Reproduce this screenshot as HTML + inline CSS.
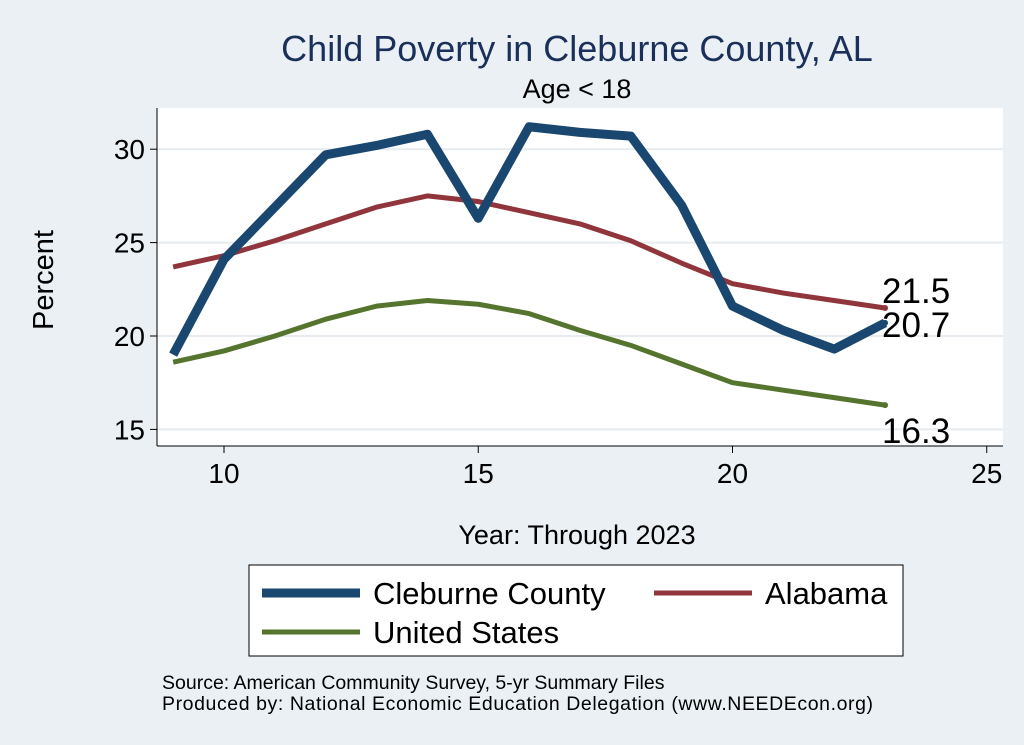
<!DOCTYPE html>
<html><head><meta charset="utf-8"><style>
body{margin:0;background:#eaf0f4;}
svg{display:block;font-family:"Liberation Sans",Arial,sans-serif;}
</style></head><body>
<svg id="chart" width="1024" height="745" viewBox="0 0 1024 745">
<rect x="0" y="0" width="1024" height="745" fill="#eaf0f4"/>
<text x="577" y="61" font-size="36" fill="#1a2f5a" text-anchor="middle">Child Poverty in Cleburne County, AL</text>
<text x="577" y="98" font-size="27" fill="#000" text-anchor="middle">Age &lt; 18</text>
<rect x="157" y="108" width="846" height="338" fill="#fff"/>
<g id="grid"></g>
<g id="axes"></g>
<g id="series"></g>
<text x="53" y="280" font-size="29" text-anchor="middle" transform="rotate(-90 53 280)">Percent</text>
<text x="577" y="544" font-size="27" text-anchor="middle">Year: Through 2023</text>
<g>
<rect x="249" y="565" width="654" height="91" fill="#fff" stroke="#000" stroke-width="1"/>
<line x1="262" y1="593" x2="360" y2="593" stroke="#1a476f" stroke-width="9"/>
<text x="373" y="604" font-size="31">Cleburne County</text>
<line x1="654" y1="593" x2="752" y2="593" stroke="#90353b" stroke-width="5"/>
<text x="765" y="604" font-size="31">Alabama</text>
<line x1="262" y1="632" x2="360" y2="632" stroke="#55752f" stroke-width="5"/>
<text x="373" y="643" font-size="31">United States</text>
</g>
<text x="162" y="689" font-size="19.5">Source: American Community Survey, 5-yr Summary Files</text>
<text x="162" y="710" font-size="19.5" textLength="711">Produced by: National Economic Education Delegation (www.NEEDEcon.org)</text>
</svg>
<script>
const years=[9,10,11,12,13,14,15,16,17,18,19,20,21,22,23];
const cleburne=[19.0,24.1,26.9,29.7,30.2,30.8,26.3,31.2,30.9,30.7,27.0,21.6,20.3,19.3,20.7];
const alabama=[23.7,24.3,25.1,26.0,26.9,27.5,27.2,26.6,26.0,25.1,23.9,22.8,22.3,21.9,21.5];
const us=[18.6,19.2,20.0,20.9,21.6,21.9,21.7,21.2,20.3,19.5,18.5,17.5,17.1,16.7,16.3];
const xTicks=[10,15,20,25];
const yTicks=[15,20,25,30];
const NS='http://www.w3.org/2000/svg';
function xs(v){return 224+(v-10)*50.85;}
function ys(v){return 336-(v-20)*18.68;}
function mk(tag,attrs,parent){const e=document.createElementNS(NS,tag);for(const k in attrs)e.setAttribute(k,attrs[k]);document.getElementById(parent).appendChild(e);return e;}
yTicks.forEach(t=>{
 const g=mk('line',{x1:157,x2:1003,y1:ys(t),y2:ys(t),stroke:'#e6ecef','stroke-width':2},'grid');
 
 
 const tk=mk('line',{x1:150,x2:157,y1:ys(t),y2:ys(t),stroke:'#000','stroke-width':1},'axes');
 
 
 const l=mk('text',{x:145,y:ys(t)+10,'font-size':28,'text-anchor':'end'},'axes');l.textContent=t;
 
 
});
mk('line',{x1:157,x2:157,y1:108,y2:446,stroke:'#000'},'axes');
mk('line',{x1:157,x2:1003,y1:446,y2:446,stroke:'#000'},'axes');
xTicks.forEach(t=>{
 const tk=mk('line',{x1:xs(t),x2:xs(t),y1:446,y2:453,stroke:'#000'},'axes');
 
 
 const l=mk('text',{x:xs(t),y:483,'font-size':28,'text-anchor':'middle'},'axes');l.textContent=t;
 
 
});
function line(vals,color,w,name){
 const d=vals.map((v,i)=>(i?'L':'M')+xs(years[i])+' '+ys(v)).join(' ');
 const p=mk('path',{d:d,fill:'none',stroke:color,'stroke-width':w,'stroke-linejoin':'round'},'series');
 
 
 const last=vals[vals.length-1];
 const c=mk('circle',{cx:xs(years[years.length-1]),cy:ys(last),r:3,fill:color},'series');
 
 
}
line(us,'#55752f',5,'us');
line(alabama,'#90353b',5,'alabama');
line(cleburne,'#1a476f',9,'cleburne');
const ex=xs(23);
[[alabama,-5,'alabama'],[cleburne,14,'cleburne'],[us,38,'us']].forEach(([v,dy,n])=>{
 const t=mk('text',{x:ex-3,y:ys(v[v.length-1])+dy,'font-size':35},'series');
 t.textContent=v[v.length-1].toFixed(1);
 
 
});
</script>
</body></html>
